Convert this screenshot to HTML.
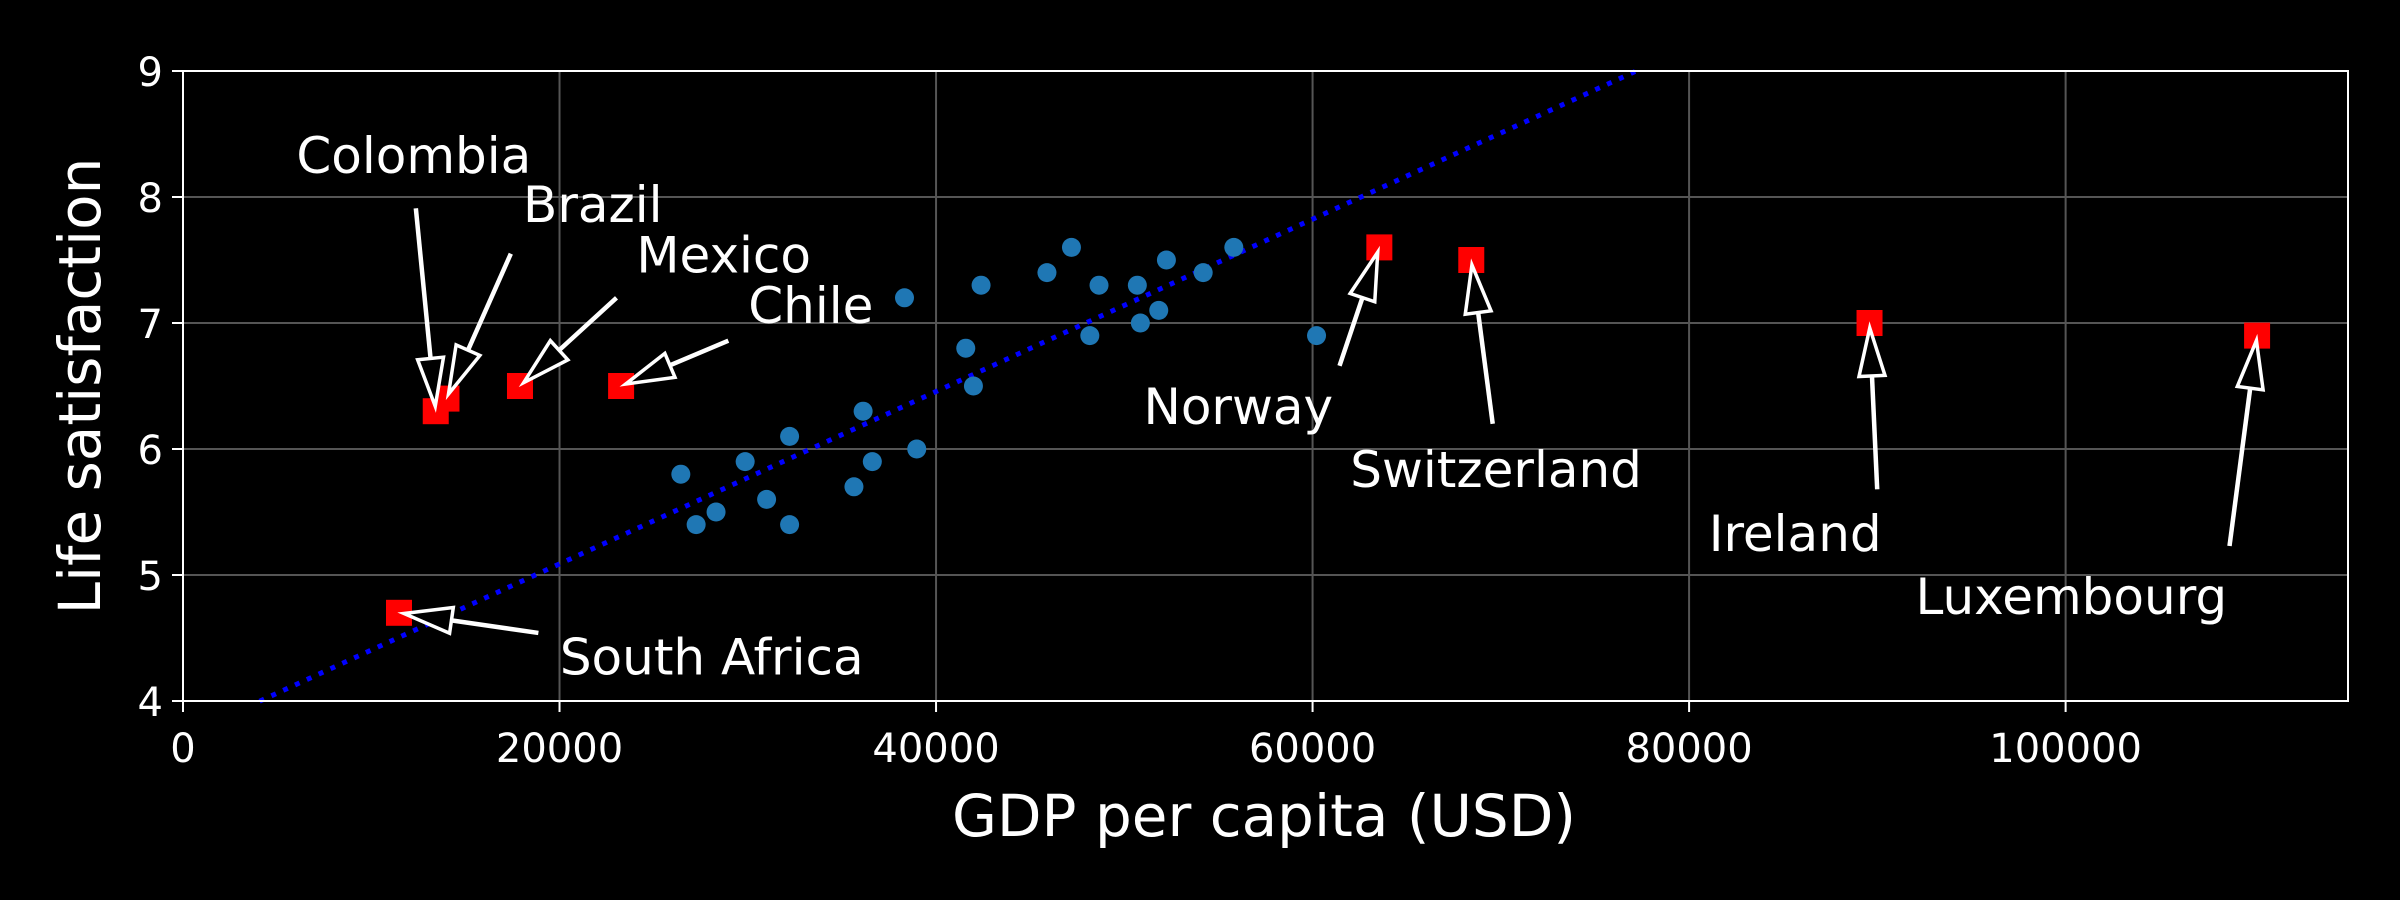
<!DOCTYPE html>
<html><head><meta charset="utf-8">
<style>
html,body{margin:0;padding:0;background:#000;}
svg{display:block;font-family:"DejaVu Sans","Liberation Sans",sans-serif;}
</style></head>
<body>
<svg id="chart" width="2400" height="900" viewBox="0 0 2400 900" xmlns="http://www.w3.org/2000/svg">
<rect x="0" y="0" width="2400" height="900" fill="#000"/>
<g id="grid"></g>
<g id="fitline"></g>
<g id="points"></g>
<g id="annots"></g>
<g id="axes"></g>
<text x="1264" y="836" fill="#fff" font-size="58" text-anchor="middle">GDP per capita (USD)</text>
<text x="0" y="0" fill="#fff" font-size="58" text-anchor="middle" transform="translate(100,386) rotate(-90)">Life satisfaction</text>
</svg>
<script>
const xTicks = [0, 20000, 40000, 60000, 80000, 100000];
const yTicks = [4, 5, 6, 7, 8, 9];
const blueGdp = [26444,27257,28315,29861,31000,32221,32221,35639,36127,36615,38975,38324,41579,41986,42392,45891,47193,48169,48657,50692,50854,51830,52237,54190,55817,60211];
const blueSat = [5.8,5.4,5.5,5.9,5.6,6.1,5.4,5.7,6.3,5.9,6.0,7.2,6.8,6.5,7.3,7.4,7.6,6.9,7.3,7.3,7.0,7.1,7.5,7.4,7.6,6.9];
const redNames = ["Colombia","Brazil","Mexico","Chile","South Africa","Norway","Switzerland","Ireland","Luxembourg"];
const redGdp = [13425,13995,17900,23271,11473,63547,68430,89585,110171];
const redSat = [6.3,6.4,6.5,6.5,4.7,7.6,7.5,7.0,6.9];
const tailGdp = [12368,17413,23027,28967,18877,61432,69569,89992,108706];
const tailSat = [7.91,7.55,7.2,6.86,4.54,6.66,6.2,5.68,5.23];
const textGdp = [6021,18063,24085,30024,20016,51017,62002,81042,92026];
const textSat = [8.19,7.8,7.4,7.0,4.21,6.2,5.7,5.19,4.69];
const fitTheta0 = 3.72;
const fitTheta1 = 6.84e-5;
const fitRange = [4068, 77132];

const L=183,R=2348,T=71,B=701;
const xMin=0,xMax=115000,yMin=4,yMax=9;
function sx(v){return L+(v-xMin)/(xMax-xMin)*(R-L);}
function sy(v){return B-(v-yMin)/(yMax-yMin)*(B-T);}
const NS="http://www.w3.org/2000/svg";
function mk(tag,attrs,parent){const e=document.createElementNS(NS,tag);for(const k in attrs)e.setAttribute(k,attrs[k]);parent.appendChild(e);return e;}

const grid=document.getElementById('grid');
const axes=document.getElementById('axes');
xTicks.forEach(t=>{
  const g=mk('line',{x1:sx(t),x2:sx(t),y1:T,y2:B,stroke:'#555',"stroke-width":2},grid);
  
  
  const tk=mk('line',{x1:sx(t),x2:sx(t),y1:B,y2:B+11,stroke:'#fff',"stroke-width":2},axes);
  
  
  const lb=mk('text',{x:sx(t),y:762,fill:'#fff',"font-size":40,"text-anchor":"middle"},axes);
  lb.textContent=String(t);
  
  
});
yTicks.forEach(t=>{
  const g=mk('line',{x1:L,x2:R,y1:sy(t),y2:sy(t),stroke:'#555',"stroke-width":2},grid);
  
  
  const tk=mk('line',{x1:L-11,x2:L,y1:sy(t),y2:sy(t),stroke:'#fff',"stroke-width":2},axes);
  
  
  const lb=mk('text',{x:L-20,y:sy(t)+15,fill:'#fff',"font-size":40,"text-anchor":"end"},axes);
  lb.textContent=String(t);
  
  
});
const frame=mk('rect',{x:L,y:T,width:R-L,height:B-T,fill:'none',stroke:'#fff',"stroke-width":2},axes);



const fl=mk('line',{x1:sx(fitRange[0]),y1:sy(fitTheta0+fitTheta1*fitRange[0]),x2:sx(fitRange[1]),y2:sy(fitTheta0+fitTheta1*fitRange[1]),stroke:'#0000ff',"stroke-width":5,"stroke-dasharray":"5 8"},document.getElementById('fitline'));



const pts=document.getElementById('points');
blueGdp.forEach((g,i)=>{
  const c=mk('circle',{cx:sx(g),cy:sy(blueSat[i]),r:9.5,fill:'#1f77b4'},pts);
  
  
});
redGdp.forEach((g,i)=>{
  const s=mk('rect',{x:sx(g)-13,y:sy(redSat[i])-13,width:26,height:26,fill:'#ff0000'},pts);
  
  
});

const an=document.getElementById('annots');
redNames.forEach((n,i)=>{
  const px=sx(redGdp[i]),py=sy(redSat[i]);
  const tx=sx(tailGdp[i]),ty=sy(tailSat[i]);
  const dx=px-tx,dy=py-ty,len=Math.hypot(dx,dy);
  const ux=dx/len,uy=dy/len;
  const tipx=px-ux*5,tipy=py-uy*5;
  const hl=48,hw=13;
  const bx=tipx-ux*hl,by=tipy-uy*hl;
  const shaft=mk('line',{x1:tx,y1:ty,x2:bx,y2:by,stroke:'#fff',"stroke-width":4.5},an);
  
  
  const head=mk('polygon',{points:`${tipx},${tipy} ${bx-uy*hw},${by+ux*hw} ${bx+uy*hw},${by-ux*hw}`,fill:'#000',stroke:'#fff',"stroke-width":3.5,"stroke-linejoin":"miter"},an);
  
  
  const t=mk('text',{x:sx(textGdp[i]),y:sy(textSat[i]),fill:'#fff',"font-size":50},an);
  t.textContent=n;
  
  
});
</script>
</body></html>
